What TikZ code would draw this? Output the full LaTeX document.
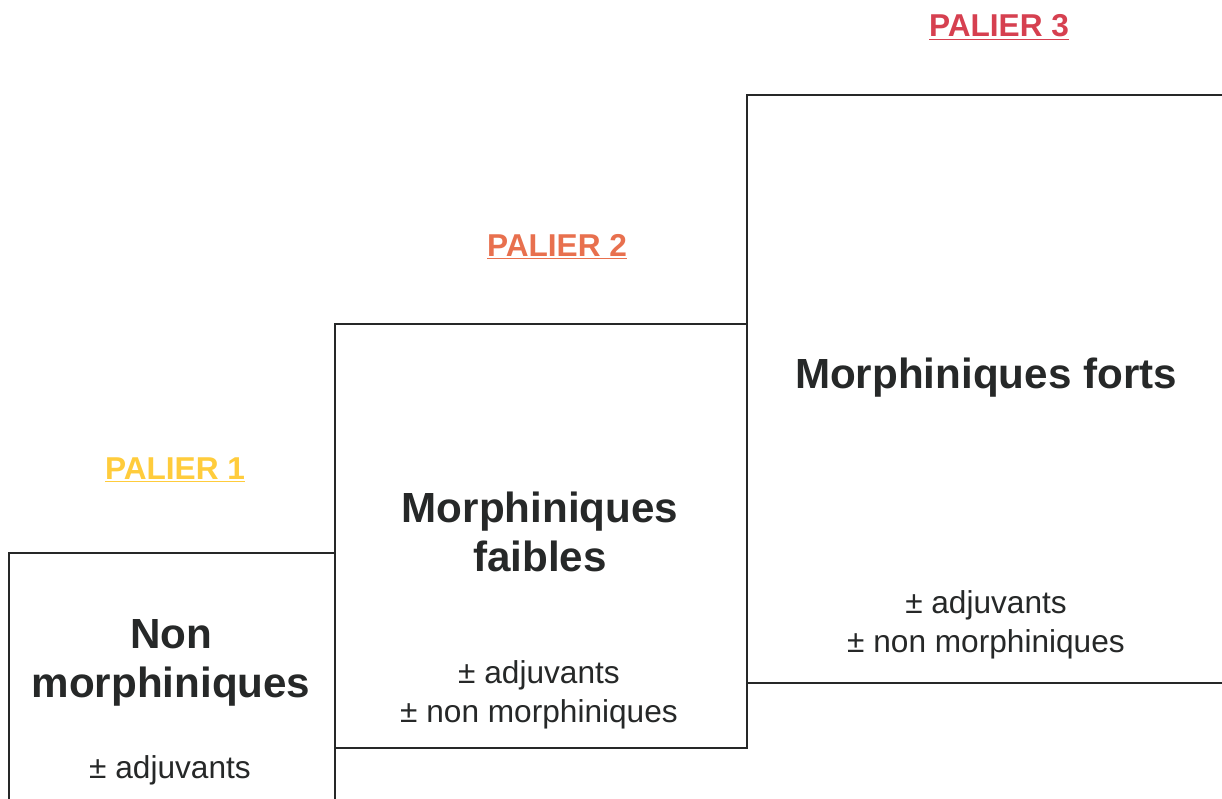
\documentclass[tikz,border=0pt]{standalone}
\usepackage{fontspec}
\setmainfont{Liberation Sans}
\usetikzlibrary{calc}
\definecolor{jaune}{RGB}{255,204,60}
\definecolor{orange2}{RGB}{232,112,78}
\definecolor{rouge3}{RGB}{214,64,80}
\definecolor{encre}{RGB}{38,40,40}
\tikzstyle{marche} = [rectangle,draw=encre,line width=1.1pt,anchor=north west,inner sep=0pt]
\tikzstyle{titre} = [font=\fontsize{24}{27.5}\selectfont\bfseries,text=encre,align=center]
\tikzstyle{note} = [font=\fontsize{18}{22}\selectfont,text=encre,align=center]
\tikzstyle{palier} = [font=\fontsize{18}{21}\selectfont\bfseries]

\begin{document}
\begin{tikzpicture}[x=0.02cm,y=-0.02cm]
  \clip (0,0) rectangle (1222,798);
  \node[marche,minimum width=6.52cm,minimum height=5.56cm](b1) at (8,552) {};
  \node[marche,minimum width=8.24cm,minimum height=8.48cm](b2) at (334,323) {};
  \node[marche,minimum width=9.88cm,minimum height=11.76cm](b3) at (746,94) {};
  \node[palier,text=jaune](p1) at ($(b1.north west)+(167,-82)$) {\underline{PALIER 1}};
  \node[palier,text=orange2](p2) at ($(b2.north west)+(223,-76)$) {\underline{PALIER 2}};
  \node[palier,text=rouge3](p3) at ($(b3.north west)+(253,-67)$) {\underline{PALIER 3}};
  \node[titre](t1) at ($(b1.north west)+(163,111)$) {Non\\morphiniques};
  \node[note](n1) at ($(b1.north west)+(162,218)$) {± adjuvants};
  \node[titre](t2) at ($(b2.north west)+(206,209)$) {Morphiniques\\faibles};
  \node[note](n2) at ($(b2.north west)+(205,372)$) {± adjuvants\\± non morphiniques};
  \node[titre](t3) at ($(b3.north west)+(240,284)$) {Morphiniques forts};
  \node[note](n3) at ($(b3.north west)+(240,531)$) {± adjuvants\\± non morphiniques};
\end{tikzpicture}
\end{document}
